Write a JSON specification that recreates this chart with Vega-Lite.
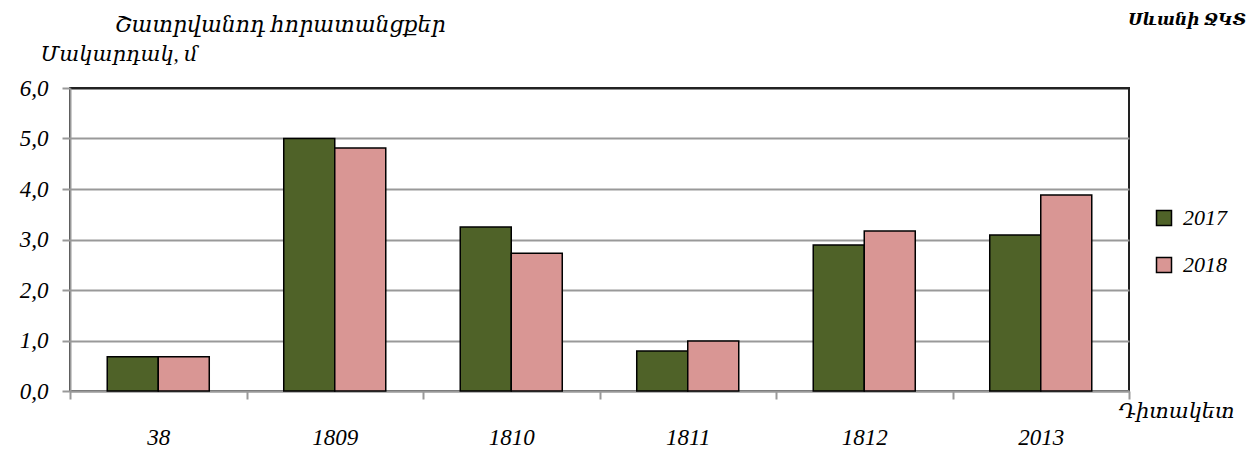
{
  "$schema": "https://vega.github.io/schema/vega-lite/v6.json",
  "autosize": {"type": "none"},
  "width": 1059,
  "height": 303,
  "padding": {"left": 70, "top": 88, "right": 129, "bottom": 59},
  "background": "white",
  "config": {
    "font": "Times New Roman, Liberation Serif, DejaVu Serif, serif",
    "view": {"stroke": "#222222", "strokeWidth": 2}
  },
  "title": {
    "text": "Շատրվանոդ հորատանցքեր",
    "anchor": "start",
    "frame": "group",
    "dx": 45,
    "offset": -25,
    "font": "Times New Roman, Liberation Serif, DejaVu Serif, serif",
    "fontSize": 22,
    "fontStyle": "italic",
    "fontWeight": "normal",
    "color": "black"
  },
  "data": {
    "values": [
      {"site": "38", "year": "2017", "value": 0.68},
      {"site": "38", "year": "2018", "value": 0.68},
      {"site": "1809", "year": "2017", "value": 5.0},
      {"site": "1809", "year": "2018", "value": 4.81},
      {"site": "1810", "year": "2017", "value": 3.25},
      {"site": "1810", "year": "2018", "value": 2.73},
      {"site": "1811", "year": "2017", "value": 0.79},
      {"site": "1811", "year": "2018", "value": 0.99},
      {"site": "1812", "year": "2017", "value": 2.89},
      {"site": "1812", "year": "2018", "value": 3.17},
      {"site": "2013", "year": "2017", "value": 3.09},
      {"site": "2013", "year": "2018", "value": 3.88}
    ]
  },
  "mark": {"type": "bar", "stroke": "black", "strokeWidth": 1.5},
  "encoding": {
    "x": {
      "field": "site",
      "type": "nominal",
      "sort": null,
      "scale": {"paddingInner": 0, "paddingOuter": 0},
      "axis": {
        "title": "Դիտակետ",
        "titleX": 1048,
        "titleY": 26,
        "titleAlign": "left",
        "titleBaseline": "alphabetic",
        "titleFont": "Times New Roman, Liberation Serif, DejaVu Serif, serif",
        "titleFontSize": 21,
        "titleFontStyle": "italic",
        "titleFontWeight": "normal",
        "titleColor": "black",
        "labelAngle": 0,
        "labelFont": "Times New Roman, Liberation Serif, DejaVu Serif, serif",
        "labelFontSize": 23,
        "labelFontStyle": "italic",
        "labelColor": "black",
        "labelPadding": 27,
        "tickBand": "extent",
        "tickSize": 8,
        "tickColor": "#999999",
        "tickWidth": 2,
        "domainColor": "#999999",
        "domainWidth": 2,
        "grid": false
      }
    },
    "xOffset": {
      "field": "year",
      "type": "nominal",
      "scale": {"paddingInner": 0, "paddingOuter": 0.73}
    },
    "y": {
      "field": "value",
      "type": "quantitative",
      "scale": {"domain": [0, 6]},
      "axis": {
        "title": "Մակարդակ, մ",
        "titleAngle": 0,
        "titleX": -30,
        "titleY": -28,
        "titleAlign": "left",
        "titleBaseline": "alphabetic",
        "titleFont": "Times New Roman, Liberation Serif, DejaVu Serif, serif",
        "titleFontSize": 21,
        "titleFontStyle": "italic",
        "titleFontWeight": "normal",
        "titleColor": "black",
        "values": [0, 1, 2, 3, 4, 5, 6],
        "labelExpr": "replace(format(datum.value, '.1f'), '.', ',')",
        "labelFont": "Times New Roman, Liberation Serif, DejaVu Serif, serif",
        "labelFontSize": 23,
        "labelFontStyle": "italic",
        "labelColor": "black",
        "labelPadding": 14,
        "tickSize": 8,
        "tickColor": "#999999",
        "tickWidth": 2,
        "domainColor": "#999999",
        "domainWidth": 2,
        "gridColor": {"condition": {"test": "datum.value === 6", "value": "#222222"}, "value": "#999999"},
        "gridWidth": 2
      }
    },
    "color": {
      "field": "year",
      "type": "nominal",
      "scale": {"domain": ["2017", "2018"], "range": ["#4f6228", "#d99694"]},
      "legend": {
        "title": "Սևանի ՋԿՏ",
        "orient": "none",
        "legendX": 1058,
        "legendY": -76,
        "padding": 0,
        "titleFont": "Times New Roman, Liberation Serif, DejaVu Serif, serif",
        "titleFontSize": 17,
        "titleFontStyle": "italic",
        "titleFontWeight": "bold",
        "titleColor": "black",
        "titlePadding": 178,
        "symbolType": "square",
        "symbolSize": 225,
        "symbolStrokeColor": "black",
        "symbolStrokeWidth": 1.5,
        "symbolOffset": 25,
        "labelFont": "Times New Roman, Liberation Serif, DejaVu Serif, serif",
        "labelFontSize": 22,
        "labelFontStyle": "italic",
        "labelColor": "black",
        "labelOffset": 8,
        "rowPadding": 25
      }
    }
  }
}
